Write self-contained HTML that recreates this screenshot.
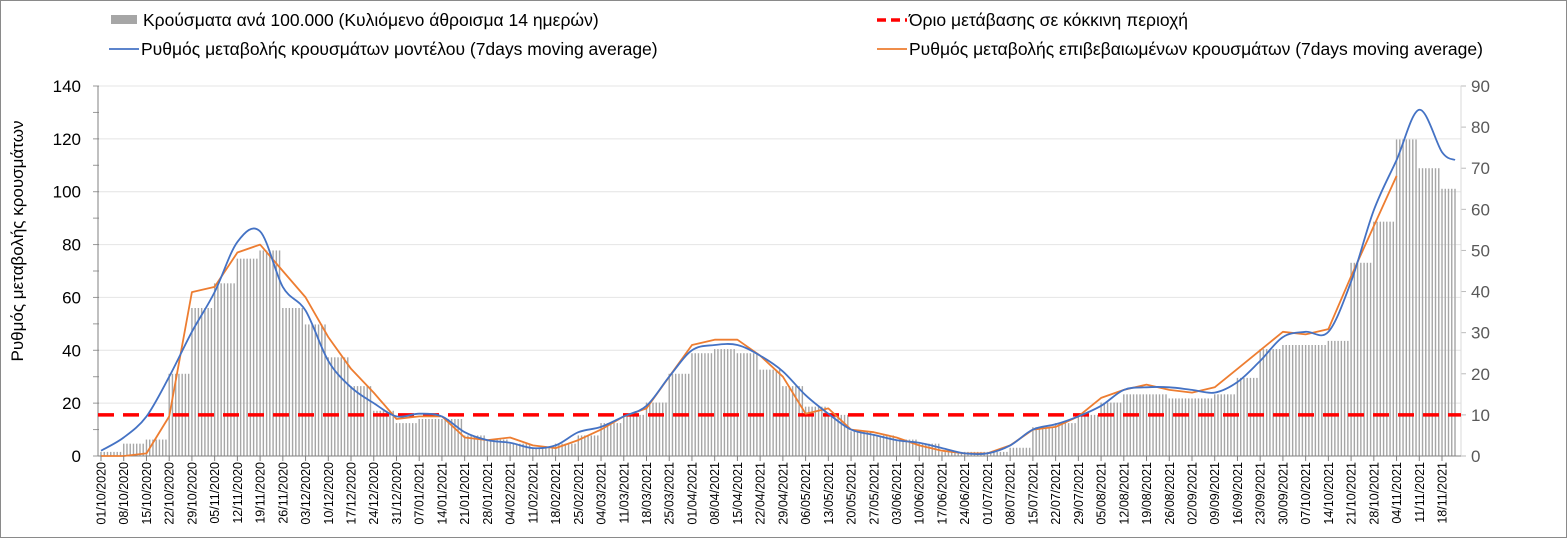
<!DOCTYPE html>
<html><head><meta charset="utf-8"><style>
body{margin:0;background:#fff;font-family:"Liberation Sans",sans-serif}
#wrap{position:relative;width:1565px;height:536px;border:1px solid #8a8a8a;overflow:hidden}
</style></head><body>
<div id="wrap">
<svg id="chart" width="1565" height="536" style="font-family:'Liberation Sans',sans-serif"></svg>
</div>
<script>
const weekLabels=["01/10/2020","08/10/2020","15/10/2020","22/10/2020","29/10/2020","05/11/2020","12/11/2020","19/11/2020","26/11/2020","03/12/2020","10/12/2020","17/12/2020","24/12/2020","31/12/2020","07/01/2021","14/01/2021","21/01/2021","28/01/2021","04/02/2021","11/02/2021","18/02/2021","25/02/2021","04/03/2021","11/03/2021","18/03/2021","25/03/2021","01/04/2021","08/04/2021","15/04/2021","22/04/2021","29/04/2021","06/05/2021","13/05/2021","20/05/2021","27/05/2021","03/06/2021","10/06/2021","17/06/2021","24/06/2021","01/07/2021","08/07/2021","15/07/2021","22/07/2021","29/07/2021","05/08/2021","12/08/2021","19/08/2021","26/08/2021","02/09/2021","09/09/2021","16/09/2021","23/09/2021","30/09/2021","07/10/2021","14/10/2021","21/10/2021","28/10/2021","04/11/2021","11/11/2021","18/11/2021"];
const barsWeekly=[1,3,4,20,36,42,48,50,36,32,24,17,11,8,9,9,5,4,3,2,3,5,8,10,13,20,25,26,25,21,17,12,10,6,5,4,3,1,1,1,2,7,8,10,13,15,15,14,14,15,19,26,27,27,28,47,57,77,70,65,62];
const blueWeekly=[2,7,15,30,47,62,81,85,64,55,36,26,20,15,16,15,9,6,5,3,4,9,11,15,19,30,40,42,42,38,32,23,16,10,8,6,5,3,1,1,4,10,12,15,19,25,26,26,25,24,28,36,45,47,47,66,93,112,131,115,112];
const orangeWeekly=[0,0,1,15,62,64,77,80,70,60,45,33,24,14,15,15,7,6,7,4,3,6,10,15,18,30,42,44,44,38,30,16,18,10,9,7,4,2,1,1,4,10,11,15,22,25,27,25,24,26,33,40,47,46,48,68,87,106];
const leftTicks=[0,20,40,60,80,100,120,140];
const rightTicks=[0,10,20,30,40,50,60,70,80,90];
const threshold=10;

const NS="http://www.w3.org/2000/svg";
const svg=document.getElementById('chart');
const X0=100,DAY=3.247,Y0=455,YT=85;
const xDay=d=>X0+d*DAY;
const yL=v=>Y0-(v/140)*(Y0-YT);
const yR=v=>Y0-(v/90)*(Y0-YT);
function mk(tag,attrs){const e=document.createElementNS(NS,tag);for(const k in attrs)e.setAttribute(k,attrs[k]);svg.appendChild(e);return e;}

leftTicks.forEach(t=>{
  const g=mk('line',{x1:97,x2:1460,y1:yL(t),y2:yL(t),stroke:'#e4e4e4','stroke-width':1});
  
  
  const tx=mk('text',{x:80,y:yL(t)+6,'text-anchor':'end','font-size':17,fill:'#000'});
  tx.textContent=t;
  
  
});
for(let v=0;v<=140;v+=10){mk('line',{x1:92,x2:98,y1:yL(v),y2:yL(v),stroke:'#999'});}
rightTicks.forEach(t=>{
  const tx=mk('text',{x:1470,y:yR(t)+6,'font-size':17,fill:'#595959'});
  tx.textContent=t;
  
  
  mk('line',{x1:1460,x2:1465,y1:yR(t),y2:yR(t),stroke:'#bbb'});
});
const nDays=(barsWeekly.length-1)*7;
for(let d=0;d<=nDays-3;d++){
  const v=barsWeekly[Math.floor(d/7)];
  const b=mk('rect',{x:xDay(d)-0.7,y:yR(v),width:1.4,height:Y0-yR(v),fill:'#a6a6a6'});
  
  
}
mk('line',{x1:97,x2:97,y1:YT,y2:Y0,stroke:'#808080'});
mk('line',{x1:1460,x2:1460,y1:YT,y2:Y0,stroke:'#d9d9d9'});
mk('line',{x1:97,x2:1460,y1:Y0,y2:Y0,stroke:'#808080'});
const th=mk('line',{x1:97,x2:1460,y1:yR(threshold),y2:yR(threshold),stroke:'#ff0000','stroke-width':3.5,'stroke-dasharray':'16,9'});


function line(arr,color,name,smooth){
  const P=arr.map((v,i)=>[xDay(Math.min(i*7,417)),yL(v)]);
  let d='M'+P[0][0].toFixed(1)+','+P[0][1].toFixed(1);
  for(let i=0;i<P.length-1;i++){
    if(!smooth){d+=' L'+P[i+1][0].toFixed(1)+','+P[i+1][1].toFixed(1);continue;}
    const p0=P[Math.max(0,i-1)],p1=P[i],p2=P[i+1],p3=P[Math.min(P.length-1,i+2)];
    const c1=[p1[0]+(p2[0]-p0[0])/6,p1[1]+(p2[1]-p0[1])/6];
    const c2=[p2[0]-(p3[0]-p1[0])/6,p2[1]-(p3[1]-p1[1])/6];
    d+=` C${c1[0].toFixed(1)},${c1[1].toFixed(1)} ${c2[0].toFixed(1)},${c2[1].toFixed(1)} ${p2[0].toFixed(1)},${p2[1].toFixed(1)}`;
  }
  const p=mk('path',{d:d,fill:'none',stroke:color,'stroke-width':1.8,'stroke-linejoin':'round'});
  
  
}
line(orangeWeekly,'#ed7d31','confirmed-rate-line',false);
line(blueWeekly,'#4472c4','model-rate-line',true);
weekLabels.forEach((l,i)=>{
  const x=xDay(i*7);
  mk('line',{x1:x,x2:x,y1:Y0,y2:Y0+5,stroke:'#808080'});
  const t=mk('text',{x:0,y:0,'font-size':12.5,fill:'#000','text-anchor':'end',transform:`translate(${x+4.5},${Y0+6}) rotate(-90)`});
  t.textContent=l;
  
  
});
const yt=mk('text',{x:0,y:0,'font-size':17,fill:'#000','text-anchor':'middle',transform:'translate(22,240) rotate(-90)'});
yt.textContent='Ρυθμός μεταβολής κρουσμάτων';


function leg(kind,x,y,color,text,name){
  if(kind==='bar')mk('rect',{x:x,y:y-5,width:26,height:9,fill:'#a6a6a6'});
  else if(kind==='dash')mk('line',{x1:x,x2:x+30,y1:y,y2:y,stroke:color,'stroke-width':3.5,'stroke-dasharray':'9,5'});
  else mk('line',{x1:x,x2:x+30,y1:y,y2:y,stroke:color,'stroke-width':1.8});
  const t=mk('text',{x:x+32,y:y+6,'font-size':17.5,fill:'#000'});
  t.textContent=text;
  
  
}
leg('bar',110,19,'#a6a6a6','Κρούσματα ανά 100.000 (Κυλιόμενο άθροισμα 14 ημερών)','legend-cases');
leg('line',108,48,'#4472c4','Ρυθμός μεταβολής κρουσμάτων μοντέλου (7days moving average)','legend-model');
leg('dash',876,19,'#ff0000','Όριο μετάβασης σε κόκκινη περιοχή','legend-threshold');
leg('line',876,48,'#ed7d31','Ρυθμός μεταβολής επιβεβαιωμένων κρουσμάτων (7days moving average)','legend-confirmed');
</script>
</body></html>
